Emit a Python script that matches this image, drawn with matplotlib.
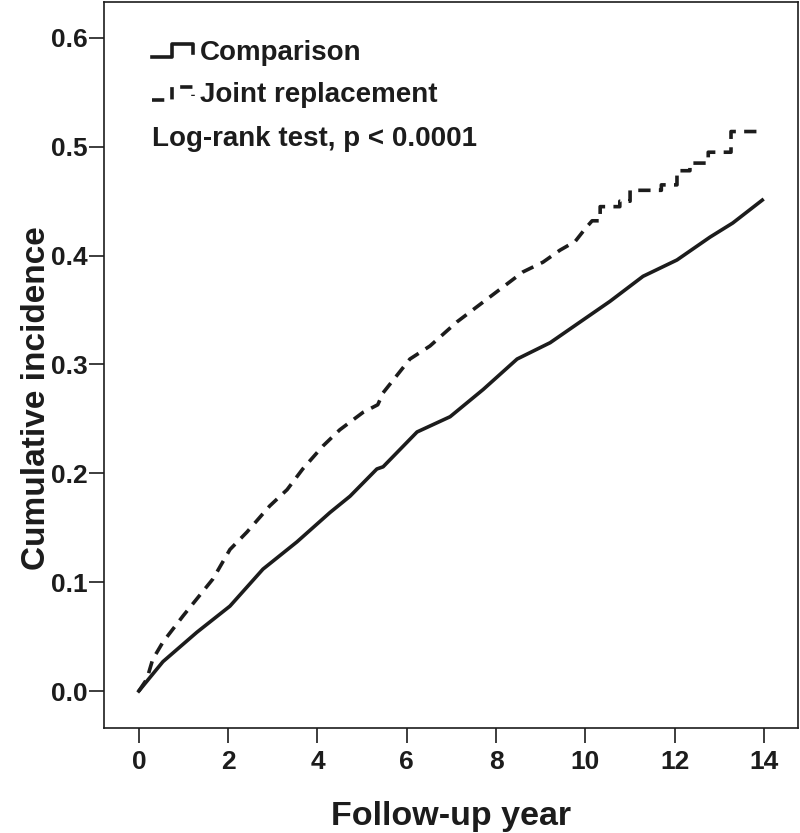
import numpy as np
import matplotlib
matplotlib.use("Agg")
import matplotlib.pyplot as plt
from matplotlib.lines import Line2D
from matplotlib.legend_handler import HandlerBase

plt.rcParams['font.family'] = ['Liberation Sans', 'DejaVu Sans']
plt.rcParams['font.weight'] = 'bold'

# ---- data ----
comp_x = [0, 0.54, 1.3, 2.04, 2.78, 3.54, 4.28, 4.73, 5.33, 5.47, 6.23, 6.97,
          7.71, 8.47, 9.21, 9.95, 10.55, 11.29, 12.05, 12.79, 13.3, 13.96]
comp_y = [0, 0.027, 0.054, 0.078, 0.112, 0.137, 0.164, 0.179, 0.204, 0.206,
          0.238, 0.252, 0.277, 0.305, 0.320, 0.341, 0.358, 0.381, 0.396,
          0.417, 0.430, 0.451]

joint_x = [0, 0.18, 0.31, 0.54, 0.99, 1.66, 2.04, 2.42, 2.93, 3.32, 3.67, 4.12,
           4.5, 5.02, 5.35, 5.47, 6.07, 6.52, 7.12, 7.86, 8.6, 9.05, 9.43,
           9.77, 10.0, 10.15, 10.33, 10.33, 10.77, 10.77, 11.0, 11.0, 11.7,
           11.7, 12.05, 12.05, 12.34, 12.34, 12.75, 12.75, 13.26, 13.26, 13.96]
joint_y = [0, 0.011, 0.029, 0.045, 0.069, 0.103, 0.130, 0.146, 0.170, 0.185,
           0.204, 0.225, 0.240, 0.256, 0.263, 0.274, 0.305, 0.317, 0.339,
           0.362, 0.385, 0.394, 0.405, 0.413, 0.425, 0.432, 0.432, 0.445,
           0.445, 0.450, 0.450, 0.460, 0.460, 0.465, 0.465, 0.478, 0.478,
           0.485, 0.485, 0.495, 0.495, 0.514, 0.514]

labels = ["Comparison", "Joint replacement"]
annotation = "Log-rank test, p < 0.0001"
xticks = [0, 2, 4, 6, 8, 10, 12, 14]
yticks = [0.0, 0.1, 0.2, 0.3, 0.4, 0.5, 0.6]

ink = '#1c1c1c'


class StepHandler(HandlerBase):
    def create_artists(self, legend, orig_handle, xdescent, ydescent,
                       width, height, fontsize, trans):
        fx = np.array([0.0, 0.44, 0.44, 0.92, 0.92])
        fy = np.array([0.15, 0.15, 0.8, 0.8, 0.35])
        line = Line2D(fx * width - xdescent, fy * height - ydescent)
        line.update_from(orig_handle)
        line.set_transform(trans)
        return [line]


fig = plt.figure(figsize=(8, 8.33), dpi=100)
ax = fig.add_axes([0.13, 0.126, 0.8675, 0.8716])

l1, = ax.plot(comp_x, comp_y, color=ink, lw=2.6, solid_joinstyle='round',
              label=labels[0])
l2, = ax.plot(joint_x, joint_y, color=ink, lw=2.6, linestyle=(0, (3.4, 2.3)),
              dash_capstyle='butt', label=labels[1])

ax.set_xlim(-0.78, 14.76)
ax.set_ylim(-0.034, 0.633)
ax.set_xticks(xticks)
ax.set_xticklabels([str(t) for t in xticks])
ax.set_yticks(yticks)
ax.set_yticklabels([f"{t:.1f}" for t in yticks])

for s in ax.spines.values():
    s.set_linewidth(1.2)
    s.set_color(ink)
ax.tick_params(axis='both', direction='out', length=10.5, width=1.2,
               colors=ink, labelsize=19)
ax.tick_params(axis='x', pad=5)
ax.tick_params(axis='y', pad=1)
for lab in ax.get_xticklabels() + ax.get_yticklabels():
    lab.set_fontweight('bold')

ax.set_xlabel("Follow-up year", fontsize=24.5, fontweight='bold', color=ink)
ax.set_ylabel("Cumulative incidence", fontsize=24, fontweight='bold', color=ink)
ax.xaxis.set_label_coords(0.5, -0.101)
ax.yaxis.set_label_coords(-0.075, 0.455)

leg = ax.legend(handles=[l1, l2], labels=labels,
                handler_map={Line2D: StepHandler()},
                loc='upper left', bbox_to_anchor=(0.069, 0.948),
                frameon=False, borderpad=0, borderaxespad=0,
                handlelength=1.62, handletextpad=0.12, labelspacing=0.6,
                prop={'size': 20, 'weight': 'bold'})
for t in leg.get_texts():
    t.set_color(ink)

ax.text(0.069, 0.802, annotation, transform=ax.transAxes, fontsize=20,
        fontweight='bold', color=ink, va='baseline', ha='left')

fig.savefig("out.png", dpi=100, facecolor='white')
